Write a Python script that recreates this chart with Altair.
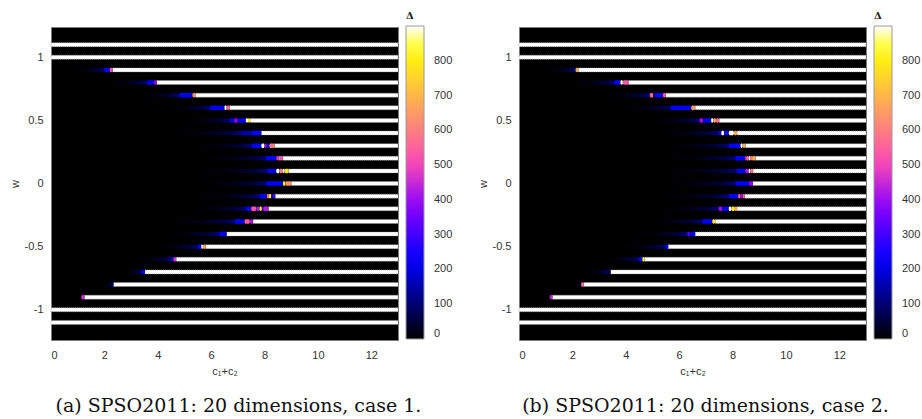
import altair as alt
import pandas as pd

# ---------------- data ----------------
w_rows = [1.1, 1.0, 0.9, 0.8, 0.7, 0.6, 0.5, 0.4, 0.3, 0.2, 0.1, 0.0,
          -0.1, -0.2, -0.3, -0.4, -0.5, -0.6, -0.7, -0.8, -0.9, -1.0, -1.1]
x_max = 13.0

# rows that have a transition zone (all but the four fully diverging rows)
fade_rows = [0.9, 0.8, 0.7, 0.6, 0.5, 0.4, 0.3, 0.2, 0.1, 0.0,
             -0.1, -0.2, -0.3, -0.4, -0.5, -0.6, -0.7, -0.8, -0.9]

# panel (a): where the white (diverged) run begins on every row
white_start_a = [0.0, 0.0, 2.31, 3.96, 5.41, 6.69, 7.46, 7.88, 8.37, 8.69, 8.9, 9.0,
                 8.4, 8.15, 7.57, 6.58, 5.8, 4.69, 3.52, 2.34, 1.25, 0.0, 0.0]
# panel (a): where the faint dark-blue tail becomes visible
fade_start_a = [0.9, 2.2, 3.3, 4.2, 5.0, 4.6, 5.5, 5.7, 5.6, 5.5,
                5.4, 5.2, 4.4, 4.2, 3.9, 3.2, 2.7, 2.0, 1.13]
# panel (a): coloured cells (w, from, to, Delta)
cells_a = [
    (0.9, 2.0, 2.2, 210), (0.9, 2.2, 2.31, 520),
    (0.8, 3.6, 3.85, 220), (0.8, 3.85, 3.96, 380),
    (0.7, 4.8, 5.3, 210), (0.7, 5.3, 5.41, 640),
    (0.6, 5.95, 6.5, 210), (0.6, 6.5, 6.58, 900), (0.6, 6.58, 6.69, 560),
    (0.5, 6.7, 6.85, 200), (0.5, 6.85, 7.0, 380), (0.5, 7.0, 7.3, 220),
    (0.5, 7.3, 7.38, 900), (0.5, 7.38, 7.46, 790),
    (0.4, 7.1, 7.5, 150), (0.4, 7.5, 7.88, 230),
    (0.3, 7.5, 7.88, 220), (0.3, 7.88, 8.0, 900), (0.3, 8.0, 8.08, 400),
    (0.3, 8.08, 8.18, 250), (0.3, 8.18, 8.37, 600),
    (0.2, 8.05, 8.44, 220), (0.2, 8.44, 8.56, 470), (0.2, 8.56, 8.6, 900),
    (0.2, 8.6, 8.69, 520),
    (0.1, 8.1, 8.44, 220), (0.1, 8.44, 8.56, 900), (0.1, 8.56, 8.69, 600),
    (0.1, 8.69, 8.75, 900), (0.1, 8.75, 8.9, 790),
    (0.0, 8.05, 8.69, 220), (0.0, 8.69, 8.79, 780), (0.0, 8.79, 9.0, 640),
    (-0.1, 7.8, 8.09, 220), (-0.1, 8.09, 8.16, 560), (-0.1, 8.16, 8.25, 800),
    (-0.1, 8.25, 8.31, 220), (-0.1, 8.31, 8.4, 300),
    (-0.2, 7.3, 7.5, 210), (-0.2, 7.5, 7.69, 520), (-0.2, 7.69, 7.81, 420),
    (-0.2, 7.81, 7.9, 800), (-0.2, 7.9, 7.95, 300), (-0.2, 7.95, 8.15, 430),
    (-0.3, 6.88, 7.25, 220), (-0.3, 7.25, 7.45, 540), (-0.3, 7.45, 7.57, 420),
    (-0.4, 6.3, 6.58, 210),
    (-0.5, 5.5, 5.63, 220), (-0.5, 5.63, 5.69, 900), (-0.5, 5.69, 5.8, 670),
    (-0.6, 4.5, 4.59, 220), (-0.6, 4.59, 4.69, 470),
    (-0.7, 3.4, 3.52, 230),
    (-0.8, 2.28, 2.34, 90),
    (-0.9, 1.13, 1.25, 450),
]

# panel (b)
white_start_b = [0.0, 0.0, 2.22, 4.1, 5.5, 6.6, 7.5, 8.17, 8.48, 8.86, 8.77, 8.76,
                 8.46, 8.17, 7.35, 6.6, 5.59, 4.7, 3.43, 2.43, 1.25, 0.0, 0.0]
fade_start_b = [1.0, 2.0, 3.1, 4.0, 4.9, 5.2, 5.5, 5.6, 5.6, 5.5,
                5.4, 5.3, 4.9, 4.3, 3.8, 3.2, 2.5, 2.2, 1.15]
cells_b = [
    (0.9, 2.12, 2.22, 680),
    (0.8, 3.56, 3.8, 220), (0.8, 3.8, 3.89, 900), (0.8, 3.89, 4.1, 540),
    (0.7, 4.9, 5.03, 560), (0.7, 5.03, 5.09, 120), (0.7, 5.09, 5.39, 230),
    (0.7, 5.39, 5.5, 540),
    (0.6, 5.68, 6.45, 220), (0.6, 6.45, 6.6, 660),
    (0.5, 6.76, 6.9, 400), (0.5, 6.9, 7.2, 220), (0.5, 7.2, 7.28, 900),
    (0.5, 7.28, 7.38, 670), (0.5, 7.38, 7.5, 560),
    (0.4, 7.48, 7.58, 220), (0.4, 7.58, 7.68, 900), (0.4, 7.68, 7.86, 250),
    (0.4, 7.86, 8.05, 900), (0.4, 8.05, 8.17, 680),
    (0.3, 7.86, 8.3, 230), (0.3, 8.3, 8.38, 900), (0.3, 8.38, 8.48, 680),
    (0.2, 8.1, 8.46, 220), (0.2, 8.46, 8.51, 420), (0.2, 8.51, 8.61, 560),
    (0.2, 8.61, 8.66, 900), (0.2, 8.66, 8.73, 600), (0.2, 8.73, 8.86, 680),
    (0.1, 8.15, 8.48, 220), (0.1, 8.48, 8.61, 420), (0.1, 8.61, 8.67, 900),
    (0.1, 8.67, 8.77, 580),
    (0.0, 8.1, 8.61, 220), (0.0, 8.61, 8.76, 380),
    (-0.1, 7.86, 8.21, 220), (-0.1, 8.21, 8.3, 540), (-0.1, 8.3, 8.38, 400),
    (-0.1, 8.38, 8.46, 560),
    (-0.2, 7.48, 7.62, 400), (-0.2, 7.62, 7.86, 220), (-0.2, 7.86, 7.96, 900),
    (-0.2, 7.96, 8.09, 790), (-0.2, 8.09, 8.17, 680),
    (-0.3, 6.86, 7.24, 220), (-0.3, 7.24, 7.35, 790),
    (-0.4, 6.3, 6.42, 300), (-0.4, 6.42, 6.6, 230),
    (-0.5, 5.49, 5.59, 230),
    (-0.6, 4.49, 4.62, 220), (-0.6, 4.62, 4.7, 800),
    (-0.7, 3.36, 3.43, 60),
    (-0.8, 2.33, 2.43, 570),
    (-0.9, 1.15, 1.25, 440),
]

captions = ["(a) SPSO2011: 20 dimensions, case 1.",
            "(b) SPSO2011: 20 dimensions, case 2."]

x_ticks = [0, 2, 4, 6, 8, 10, 12]
y_ticks = [-1, -0.5, 0, 0.5, 1]
cb_ticks = [0, 100, 200, 300, 400, 500, 600, 700, 800]

# gnuplot-like palette stops (style)
pal_dom = [0, 50, 100, 150, 200, 225, 250, 300, 350, 378, 400, 450, 500, 514,
           550, 600, 650, 700, 750, 800, 828, 850, 900]
pal_rng = ["#000000", "#000039", "#000071", "#0000aa", "#0000e3", "#0000ff",
           "#1600ff", "#4200ff", "#6f00ff", "#8700ff", "#9b0cf3", "#c729d6",
           "#f445ba", "#ff4db2", "#ff619e", "#ff7e81", "#ff9a65", "#ffb649",
           "#ffd32c", "#ffef10", "#ffff00", "#ffff4e", "#ffffff"]

LABEL_FONT = "Liberation Sans"
ROW_PX = 4


def y_lab_expr():
    return ("datum.value < 0 ? '-' + format(-datum.value, '~g') : "
            "format(datum.value, '~g')")


def panel(white_start, fade_start, cells, caption, cap_dx):
    white_df = pd.DataFrame({"w": w_rows, "x0": white_start,
                             "x1": [x_max] * len(w_rows)})
    white_df = white_df[white_df["x0"] < x_max]
    cell_df = pd.DataFrame(cells, columns=["w", "x0", "x1", "d"])
    first = cell_df.groupby("w")["x0"].min()
    fade_df = pd.DataFrame({"w": fade_rows, "x0": fade_start,
                            "x1": [first[w] for w in fade_rows]})
    fade_df = fade_df[fade_df["x0"] < fade_df["x1"]]

    xs = alt.Scale(domain=[0, 13], nice=False, zero=False)
    ys = alt.Scale(domain=[-1.2, 1.2], nice=False, zero=False)
    xax = alt.Axis(values=x_ticks, title="c\u2081+c\u2082", labelPadding=9,
                   titlePadding=5)
    yax = alt.Axis(values=y_ticks, title="w", labelExpr=y_lab_expr(),
                   labelPadding=8, titlePadding=4)

    fade = alt.Chart(fade_df).mark_bar(
        orient="horizontal", size=ROW_PX,
        color=alt.Gradient(
            gradient="linear", x1=0, x2=1, y1=0, y2=0,
            stops=[alt.GradientStop(color="#000000", offset=0),
                   alt.GradientStop(color="#000012", offset=0.45),
                   alt.GradientStop(color="#00003a", offset=0.8),
                   alt.GradientStop(color="#000078", offset=1)])
    ).encode(
        x=alt.X("x0:Q", scale=xs, axis=xax),
        x2="x1:Q",
        y=alt.Y("w:Q", scale=ys, axis=yax),
    )

    white = alt.Chart(white_df).mark_bar(
        orient="horizontal", size=ROW_PX, color="white",
        stroke="#8a8a8a", strokeWidth=0.7, strokeDash=[1, 1]
    ).encode(x=alt.X("x0:Q", scale=xs, axis=xax), x2="x1:Q",
             y=alt.Y("w:Q", scale=ys, axis=yax))

    cell = alt.Chart(cell_df).mark_bar(
        orient="horizontal", size=ROW_PX + 0.5, cornerRadius=1.5
    ).encode(
        x=alt.X("x0:Q", scale=xs, axis=xax),
        x2="x1:Q",
        y=alt.Y("w:Q", scale=ys, axis=yax),
        color=alt.Color(
            "d:Q",
            scale=alt.Scale(domain=pal_dom, range=pal_rng, interpolate="rgb"),
            legend=alt.Legend(
                title="\u2002\u0394", orient="none", legendX=355, legendY=-16,
                direction="vertical",
                gradientLength=313, gradientThickness=18,
                gradientStrokeColor="#9a9a9a", gradientStrokeWidth=1,
                values=cb_ticks, labelFont=LABEL_FONT, labelFontSize=11,
                labelColor="#333333", labelOffset=10,
                titleFont="DejaVu Serif", titleFontSize=10,
                titleFontWeight="bold", titleColor="#222222",
                titleAnchor="start", titlePadding=5),
        ),
    )

    return alt.layer(fade, white, cell).properties(
        width=347, height=313,
        title=alt.TitleParams(text=caption, orient="bottom", anchor="middle",
                              font="DejaVu Serif", fontSize=19,
                              fontWeight="normal", color="#111111",
                              offset=21, dx=cap_dx),
    )


pa = panel(white_start_a, fade_start_a, cells_a, captions[0], 14)
pb = panel(white_start_b, fade_start_b, cells_b, captions[1], 13)

chart = alt.hconcat(pa, pb, spacing=22).resolve_scale(
    color="independent"
).properties(
    padding={"left": 8, "top": 10, "right": 0, "bottom": 0}
).configure_view(
    fill="black", stroke="#7a7a7a", strokeWidth=1
).configure_axis(
    ticks=False, domain=False, grid=False,
    labelFont=LABEL_FONT, labelFontSize=11, labelColor="#333333",
    titleFont=LABEL_FONT, titleFontSize=11, titleFontWeight="normal",
    titleColor="#333333",
)

chart.save("out.html", embed_options={"renderer": "svg", "actions": False})
